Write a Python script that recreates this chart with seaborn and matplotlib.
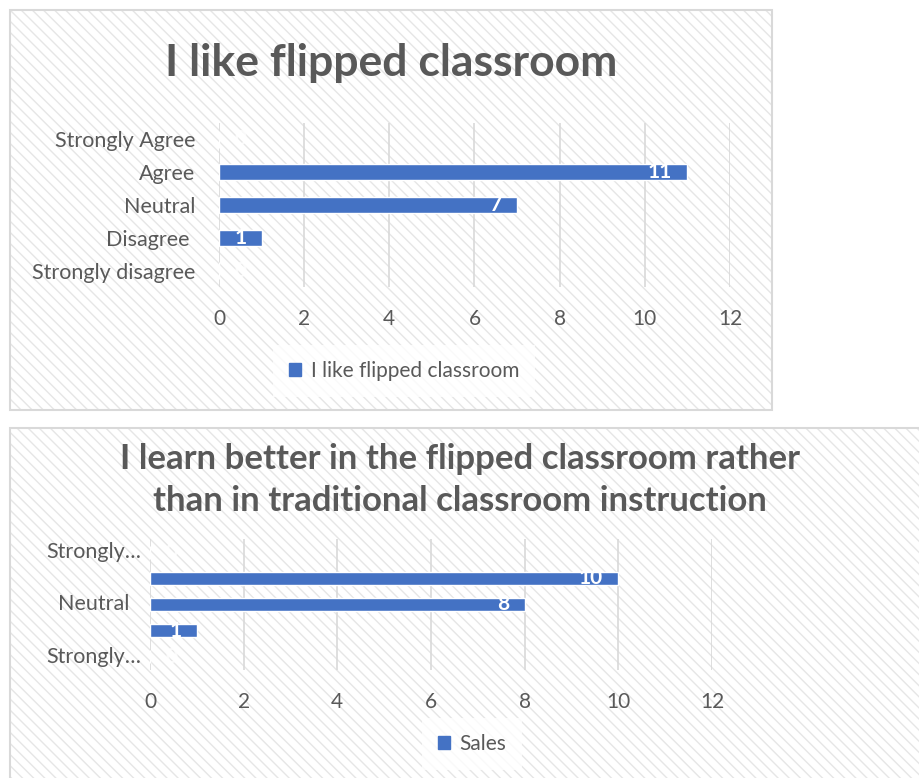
import numpy as np
import pandas as pd
import matplotlib
matplotlib.use("Agg")
import matplotlib.pyplot as plt
from matplotlib.patches import Rectangle
import seaborn as sns

# chart 1
cats_1 = ["Strongly Agree", "Agree", "Neutral", "Disagree ", "Strongly disagree"]
vals_1 = [0, 11, 7, 1, 0]
title_1 = "I like flipped classroom"
series_1 = "I like flipped classroom"

# chart 2
cats_2 = ["Strongly agree", "Agree", "Neutral", "Disagree", "Strongly disagree"]
vals_2 = [0, 10, 8, 1, 0]
shown_2 = ["Strongly…", "", "Neutral", "", "Strongly…"]
title_2 = "I learn better in the flipped classroom rather\nthan in traditional classroom instruction"
series_2 = "Sales"

x_ticks = [0, 2, 4, 6, 8, 10, 12]

BLUE = "#4472C4"
GRAY = "#595959"
GRID = "#D9D9D9"
W, H = 920, 778

sns.set_theme(style="white")
plt.rcParams["font.family"] = ["Lato", "DejaVu Sans"]
plt.rcParams["hatch.linewidth"] = 1.0

fig = plt.figure(figsize=(W / 100, H / 100), dpi=100)
fig.patch.set_facecolor("white")


def fx(x):
    return x / W


def fy(y):
    return 1 - y / H


def panel(x0, y0, x1, y1):
    fig.patches.append(Rectangle((fx(x0), fy(y1)), fx(x1 - x0), (y1 - y0) / H,
                                 transform=fig.transFigure, facecolor="white",
                                 edgecolor="#E6E6E6", lw=0, hatch="\\\\\\", zorder=-3))
    fig.patches.append(Rectangle((fx(x0), fy(y1)), fx(x1 - x0), (y1 - y0) / H,
                                 transform=fig.transFigure, facecolor="none",
                                 edgecolor=GRID, lw=1.5, zorder=-2))


def chart(cats, vals, shown, left, right, top, bottom, ylab_size, ylab_pad, centered_x=None):
    ax = fig.add_axes([fx(left), fy(bottom), fx(right - left), (bottom - top) / H])
    ax.set_facecolor("none")
    df = pd.DataFrame({"cat": cats, "val": vals})
    sns.barplot(data=df, x="val", y="cat", orient="h", color=BLUE, width=0.5,
                saturation=1, ax=ax, zorder=3)
    ax.set_xlim(0, 12)
    ax.set_ylim(4.5, -0.5)
    ax.set_xticks(x_ticks)
    ax.set_xticklabels([str(t) for t in x_ticks], fontsize=15, color=GRAY)
    ax.grid(axis="x", color=GRID, lw=1.2, zorder=0)
    ax.set_axisbelow(True)
    for s in ax.spines.values():
        s.set_visible(False)
    ax.set_xlabel("")
    ax.set_ylabel("")
    ax.tick_params(axis="both", length=0)
    ax.tick_params(axis="x", pad=16)
    ax.set_yticks(range(len(cats)))
    if centered_x is None:
        ax.set_yticklabels(shown, fontsize=ylab_size, color=GRAY)
        ax.tick_params(axis="y", pad=ylab_pad)
    else:
        ax.set_yticklabels([])
        for i, lab in enumerate(shown):
            ax.text(centered_x, i, lab, transform=ax.get_yaxis_transform(),
                    ha="center", va="center", fontsize=ylab_size, color=GRAY)
    for i, v in enumerate(vals):
        if v > 0:
            ax.annotate(str(v), (v, i), xytext=(-11, 0), textcoords="offset points",
                        ha="right", va="center", color="white", fontsize=15,
                        fontweight="bold", zorder=5)
        else:
            ax.annotate(str(v), (v, i), xytext=(11, 0), textcoords="offset points",
                        ha="left", va="center", color="white", fontsize=15,
                        fontweight="bold", alpha=0.8, zorder=5)
    return ax


# panels
panel(10, 10, 772, 410)
panel(10, 428, 925, 785)

# top chart
chart(cats_1, vals_1, cats_1, 219, 730, 123, 287, 15.5, 17)
fig.text(fx(391), fy(63), title_1, ha="center", va="center", fontsize=32,
         fontweight="bold", color=GRAY)
leg1 = fig.legend(handles=[Rectangle((0, 0), 1, 1, color=BLUE)], labels=[series_1],
                  loc="center", bbox_to_anchor=(fx(404), fy(371)), fontsize=15,
                  frameon=True, handlelength=0.6, handleheight=0.6, handletextpad=0.45,
                  borderpad=0.75, fancybox=False)
leg1.get_frame().set_facecolor("white")
leg1.get_frame().set_edgecolor("none")
for t in leg1.get_texts():
    t.set_color(GRAY)

# bottom chart
chart(cats_2, vals_2, shown_2, 150, 712, 539, 670, 15.5, 6, centered_x=-0.1)
fig.text(fx(460), fy(480), title_2, ha="center", va="center", fontsize=25,
         fontweight="bold", color=GRAY, linespacing=1.4)
leg2 = fig.legend(handles=[Rectangle((0, 0), 1, 1, color=BLUE)], labels=[series_2],
                  loc="center", bbox_to_anchor=(fx(472), fy(744)), fontsize=15,
                  frameon=True, handlelength=0.6, handleheight=0.6, handletextpad=0.45,
                  borderpad=0.75, fancybox=False)
leg2.get_frame().set_facecolor("white")
leg2.get_frame().set_edgecolor("none")
for t in leg2.get_texts():
    t.set_color(GRAY)

fig.savefig("out.png", dpi=100)
